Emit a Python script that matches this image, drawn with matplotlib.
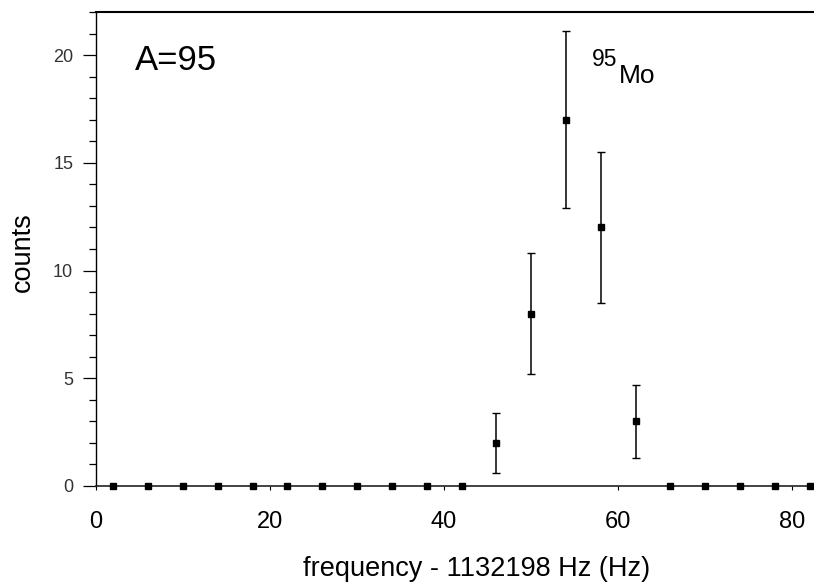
import matplotlib
matplotlib.use("Agg")
import matplotlib.pyplot as plt
import numpy as np

# Data
freq = [2, 6, 10, 14, 18, 22, 26, 30, 34, 38, 42, 46, 50, 54, 58, 62, 66, 70, 74, 78, 82]
counts = [0, 0, 0, 0, 0, 0, 0, 0, 0, 0, 0, 2, 8, 17, 12, 3, 0, 0, 0, 0, 0]
errors = [0, 0, 0, 0, 0, 0, 0, 0, 0, 0, 0, 1.4, 2.8, 4.1, 3.5, 1.7, 0, 0, 0, 0, 0]
xticks = [0, 20, 40, 60, 80]
yticks = [0, 5, 10, 15, 20]
xlabel = "frequency - 1132198 Hz (Hz)"
ylabel = "counts"
label_a = "A=95"
label_mass = "95"
label_elem = "Mo"

W, H = 814, 585
fig = plt.figure(figsize=(W / 100, H / 100), dpi=100)
ax = fig.add_axes([96 / W, (H - 486) / H, (W - 96) / W, (486 - 12) / H])

freq_a = np.array(freq)
counts_a = np.array(counts, dtype=float)
err_a = np.array(errors, dtype=float)
m = err_a > 0

ax.errorbar(freq_a[m], counts_a[m], yerr=err_a[m], fmt="none", ecolor="black",
            elinewidth=1.1, capsize=2.8, capthick=1.0, zorder=3)
ax.plot(freq_a, counts_a, linestyle="none", marker="s", markersize=4.3,
        color="black", clip_on=False, zorder=4)

ax.set_xlim(0, 82.5)
ax.set_ylim(0, 22)
ax.set_xticks(xticks)
ax.set_yticks(yticks)
ax.set_yticks(np.arange(0, 23, 1), minor=True)

ax.spines["right"].set_visible(False)
ax.spines["top"].set_linewidth(1.5)
ax.spines["left"].set_linewidth(1.0)
ax.spines["bottom"].set_linewidth(1.2)
ax.spines["bottom"].set_color("#222222")

ax.tick_params(axis="x", which="major", direction="out", length=3, width=0.8,
               pad=15, labelsize=17, labelfontfamily="Liberation Sans")
ax.tick_params(axis="y", which="major", direction="out", length=9.4, width=0.9,
               pad=7, labelsize=13, labelcolor="#333333",
               labelfontfamily="Liberation Sans")
ax.tick_params(axis="y", which="minor", direction="out", length=4.8, width=0.9)

ax.set_xlabel(xlabel, fontsize=19.5, family="Liberation Sans")
ax.xaxis.set_label_coords((476.5 - 96) / (W - 96), (486 - 556) / 474)
ax.set_ylabel(ylabel, fontsize=19.5, family="Liberation Sans")
ax.yaxis.set_label_coords((36 - 96) / (W - 96), (486 - 252.5) / 474)

fig.text(135 / W, (H - 70) / H, label_a, fontsize=25, family="Liberation Sans",
         ha="left", va="baseline")
fig.text(592 / W, (H - 66.5) / H, label_mass, fontsize=16.5, family="Liberation Sans",
         ha="left", va="baseline")
fig.text(619 / W, (H - 83) / H, label_elem, fontsize=19, family="Liberation Sans",
         ha="left", va="baseline")

fig.savefig("out.png", dpi=100)
